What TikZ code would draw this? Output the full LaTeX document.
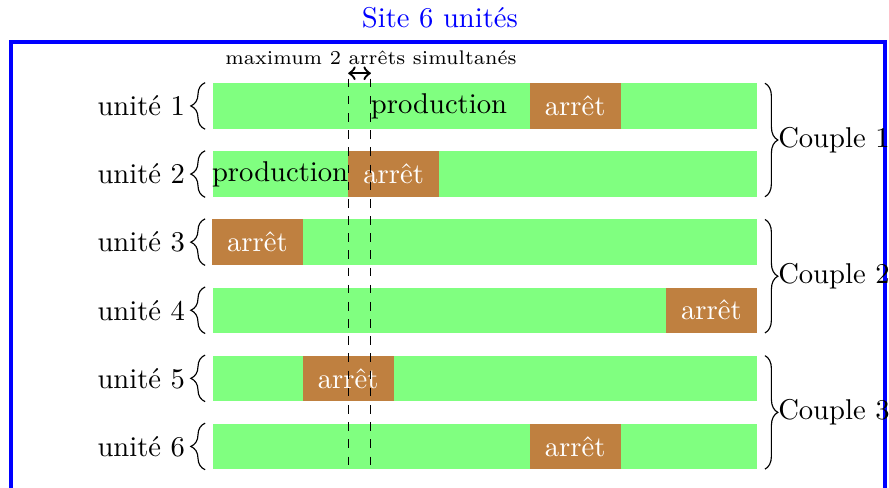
\documentclass[tikz,border=0pt]{standalone}
\usepackage{xcolor}
\usetikzlibrary{decorations.pathreplacing}

\begin{document}
\begin{tikzpicture}[x=1.115cm, y=1.115cm,
  bar/.style={fill=green!50, minimum width=6.69cm, minimum height=0.5575cm, inner sep=0pt, anchor=west},
  stopbox/.style={fill=brown, text=white, minimum width=1.115cm, minimum height=0.5575cm, inner sep=0pt},
  lbrace/.style={decorate, decoration={brace, amplitude=5pt}},
  rbrace/.style={decorate, decoration={brace, amplitude=4.5pt}}]
  \useasboundingbox (-2.335,-4.207) rectangle (7.456,1.167);

  % Blue frame and title
  \draw[blue, line width=1.4pt] (-2.214,-4.6) rectangle (7.412,0.705);
  \node[blue] (title) at (2.51,0.97) {Site 6 unités};

  % Bars, stops and unit labels
  \foreach \i/\a in {1/3.5, 2/1.5, 3/0, 4/5, 5/1, 6/3.5} {
    \node[bar] (b\i) at (0,{-0.75*(\i-1)}) {};
    \node[stopbox] (s\i) at ({\a+0.5},{-0.75*(\i-1)}) {arrêt};
    \draw[lbrace] ([xshift=-2.4pt]b\i.south west) -- ([xshift=-2.4pt]b\i.north west);
    \node[anchor=east, inner sep=1pt] (u\i) at (-0.26,{-0.75*(\i-1)}) {unité \i};
  }
  \node (p1) at (2.5,0) {production};
  \node (p2) at (0.75,-0.75) {production};

  % Couples on the right
  \foreach \k in {1,2,3} {
    \draw[rbrace] (6.09,{-1.5*(\k-1)+0.25}) -- (6.09,{-1.5*(\k-1)-1});
    \node[anchor=west, inner sep=0pt] (c\k) at (6.23,{-1.5*(\k-1)-0.375}) {Couple \k};
  }

  % Window of simultaneous stops
  \coordinate (d1top) at (1.5,0.3);
  \coordinate (d1bot) at (1.5,-4);
  \coordinate (d2top) at (1.75,0.3);
  \coordinate (d2bot) at (1.75,-4);
  \draw[dashed] (d1top) -- (d1bot);
  \draw[dashed] (d2top) -- (d2bot);
  \coordinate (a1) at (1.5,0.36);
  \coordinate (a2) at (1.75,0.36);
  \draw[<->, thick] (a1) -- (a2);
  \node[font=\fontsize{6.9}{8}\selectfont] (max) at (1.75,0.53) {maximum 2 arrêts simultanés};
\end{tikzpicture}
\end{document}
